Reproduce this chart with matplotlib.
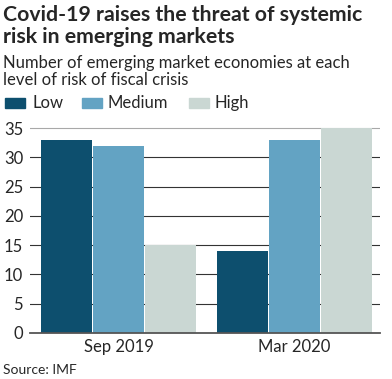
import matplotlib
matplotlib.use("Agg")
import matplotlib.pyplot as plt
import numpy as np
from matplotlib.patches import Rectangle

categories = ["Sep 2019", "Mar 2020"]
series_names = ["Low", "Medium", "High"]
low = [33, 14]
medium = [32, 33]
high = [15, 35]
yticks = [0, 5, 10, 15, 20, 25, 30, 35]
colors = ["#0d4f6e", "#63a3c3", "#cad7d3"]

plt.rcParams['font.family'] = ['Lato', 'DejaVu Sans']
fig = plt.figure(figsize=(3.92, 3.79), dpi=100)
fig.patch.set_facecolor("white")
ax = fig.add_axes([0.0765, 0.1214, 0.8925, 0.5435])

w = 0.297
x = np.arange(len(categories))
for i, (vals, c) in enumerate(zip([low, medium, high], colors)):
    ax.bar(x + (i - 1) * w, vals, width=w - 0.006, color=c, zorder=3)

ax.set_xlim(-0.503, 1.486)
ax.set_ylim(0, 35.2)
ax.set_yticks(yticks)
for t in yticks[1:]:
    col = "#a8a8a8" if t == yticks[-1] else "#333333"
    ax.axhline(t, color=col, linewidth=0.8, zorder=1)
ax.tick_params(axis="y", length=0, labelsize=12, pad=5, labelcolor="#262626")
ax.set_xticks(x)
ax.set_xticklabels(categories)
ax.tick_params(axis="x", length=0, labelsize=12, pad=4, labelcolor="#262626")
for s in ["top", "right", "left"]:
    ax.spines[s].set_visible(False)
ax.spines["bottom"].set_color("#555555")
ax.spines["bottom"].set_linewidth(1.3)
ax.spines["bottom"].set_zorder(4)

def fy(py):
    return 1 - py / 379

fig.text(0.008, fy(21), "Covid-19 raises the threat of systemic",
         fontsize=15.3, fontweight="bold", color="#262626", va="baseline", ha="left")
fig.text(0.008, fy(43), "risk in emerging markets",
         fontsize=15.3, fontweight="bold", color="#262626", va="baseline", ha="left")
fig.text(0.008, fy(68), "Number of emerging market economies at each",
         fontsize=12, color="#262626", va="baseline", ha="left")
fig.text(0.008, fy(85), "level of risk of fiscal crisis",
         fontsize=12, color="#262626", va="baseline", ha="left")

# legend
leg_y = fy(103)
sq_h = 10 / 379
items = [(5, 20, 32), (82, 20, 108), (189, 20, 215)]
for (sx, sw, tx), name, c in zip(items, series_names, colors):
    fig.patches.append(Rectangle((sx / 392, leg_y - sq_h / 2), sw / 392, sq_h,
                                 transform=fig.transFigure, color=c, figure=fig))
    fig.text(tx / 392, leg_y, name, fontsize=12, color="#262626", va="center", ha="left")

fig.text(0.008, fy(370), "Source: IMF", fontsize=10, color="#262626", va="center", ha="left")

fig.savefig("out.png", dpi=100, facecolor="white")
